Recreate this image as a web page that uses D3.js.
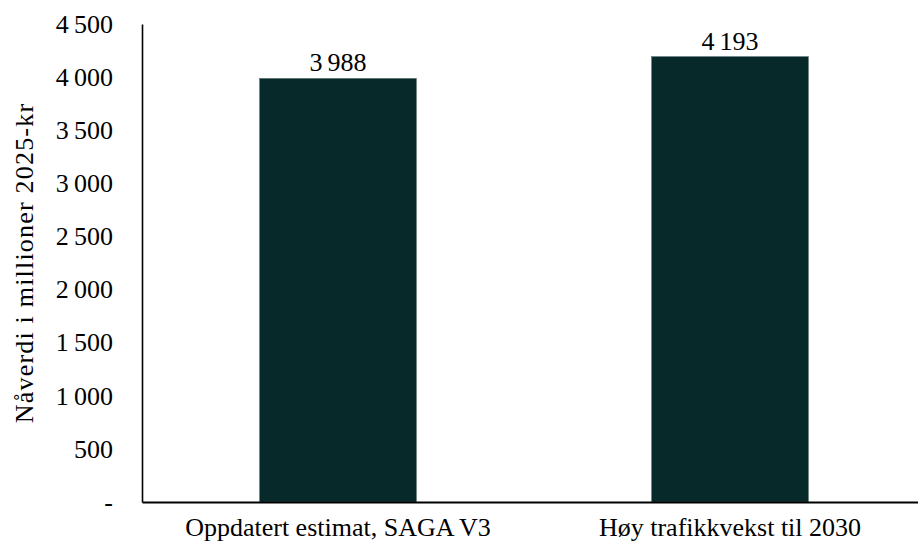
<!DOCTYPE html>
<html><head><meta charset="utf-8">
<script src="https://cdn.jsdelivr.net/npm/d3@7"></script>
<style>
html,body{margin:0;padding:0;background:#fff;}
svg{display:block;}
</style></head>
<body>
<svg id="chart" width="918" height="541"></svg>
<script>
const categories = ["Oppdatert estimat, SAGA V3", "Høy trafikkvekst til 2030"];
const values = [3988, 4193];
const yTicks = [0, 500, 1000, 1500, 2000, 2500, 3000, 3500, 4000, 4500];
const yTitle = "Nåverdi i millioner 2025-kr";

const W = 918, H = 541;
const m = {left: 142, right: -8, top: 24, bottom: 39};
const svg = d3.select("#chart");
const fs = 26;
const FONT = "'Liberation Serif', 'Times New Roman', Times, serif";

const fmt = v => v === 0 ? "-" : d3.format(",")(v).replace(/,/g, "\u2009");
const fmtLabel = v => d3.format(",")(v).replace(/,/g, "\u2009");

const x = d3.scaleBand().domain(categories)
  .range([m.left, W - m.right]).paddingInner(0.6).paddingOuter(0.3);
const y = d3.scaleLinear().domain([0, 4500]).range([H - m.bottom, m.top]);

// bars
svg.append("g").selectAll("rect").data(values).join("rect")
  .attr("x", (d, i) => x(categories[i]))
  .attr("width", x.bandwidth())
  .attr("y", d => y(d))
  .attr("height", d => y(0) - y(d))
  .attr("fill", "#08292a")
  .attr("stroke", "#5b7373").attr("stroke-width", 0.6);

// value labels
svg.append("g").selectAll("text").data(values).join("text")
  .attr("x", (d, i) => x(categories[i]) + x.bandwidth() / 2)
  .attr("y", d => y(d) - 7)
  .attr("text-anchor", "middle")
  .attr("font-family", FONT)
  .attr("font-size", fs)
  .attr("fill", "#000")
  .text(d => fmtLabel(d));

// y axis
const yAxis = d3.axisLeft(y).tickValues(yTicks).tickSize(0).tickPadding(29).tickFormat(fmt);
const gy = svg.append("g").attr("transform", `translate(${m.left},0)`).call(yAxis)
  .attr("font-family", FONT).attr("font-size", fs);
gy.select(".domain").attr("stroke", "#000").attr("stroke-width", 1.6);
gy.selectAll("text").attr("fill", "#000");

// x axis
const xAxis = d3.axisBottom(x).tickSize(0).tickPadding(16);
const gx = svg.append("g").attr("transform", `translate(0,${y(0)})`).call(xAxis)
  .attr("font-family", FONT).attr("font-size", fs);
gx.select(".domain").attr("stroke", "#000").attr("stroke-width", 2.2);
gx.selectAll("text").attr("fill", "#000");

// y title
svg.append("text")
  .attr("transform", `translate(33,${(y(0) + y(4500)) / 2}) rotate(-90)`)
  .attr("text-anchor", "middle")
  .attr("font-family", FONT)
  .attr("font-size", fs)
  .attr("letter-spacing", 1.2)
  .attr("fill", "#000")
  .text(yTitle);
</script>
</body></html>
